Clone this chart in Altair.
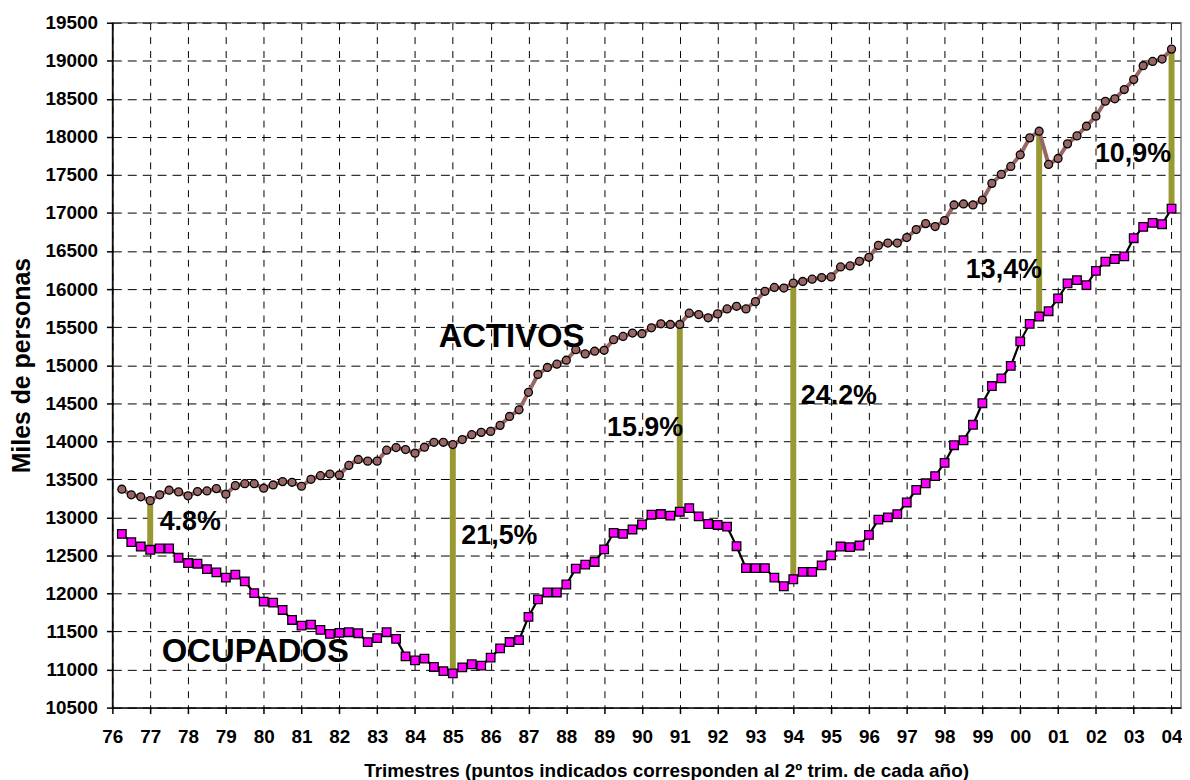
import json
import altair as alt
import pandas as pd

year_labels = ["76", "77", "78", "79", "80", "81", "82", "83", "84", "85", "86", "87",
               "88", "89", "90", "91", "92", "93", "94", "95", "96", "97", "98", "99",
               "00", "01", "02", "03", "04"]

# quarter index: 0 = 2nd quarter 1976 (tick "76"), first observation = 3rd quarter 1976
quarters = list(range(1, 113))

activos = [13370, 13296, 13270, 13220, 13296, 13357, 13335, 13283, 13339, 13348, 13378, 13304,
           13417, 13443, 13443, 13383, 13426, 13470, 13461, 13409, 13500, 13548, 13570, 13557,
           13683, 13761, 13739, 13739, 13883, 13917, 13891, 13843, 13922, 13987, 13987, 13957,
           14022, 14087, 14117, 14130, 14209, 14326, 14413, 14643, 14878, 14970, 15013, 15065,
           15204, 15148, 15183, 15196, 15335, 15378, 15422, 15413, 15491, 15543, 15535, 15535,
           15683, 15665, 15622, 15674, 15739, 15774, 15739, 15835, 15970, 16022, 16013, 16078,
           16100, 16130, 16152, 16160, 16291, 16304, 16365, 16418, 16574, 16604, 16604, 16677,
           16782, 16860, 16821, 16900, 17105, 17118, 17105, 17170, 17389, 17507, 17612, 17764,
           17987, 18074, 17638, 17716, 17908, 18013, 18140, 18271, 18468, 18500, 18622, 18753,
           18935, 18991, 19022, 19153]

ocupados = [12783, 12674, 12617, 12574, 12591, 12591, 12469, 12400, 12391, 12321, 12277, 12208,
            12247, 12160, 12004, 11892, 11879, 11783, 11652, 11578, 11591, 11521, 11469, 11482,
            11491, 11478, 11361, 11413, 11491, 11404, 11174, 11121, 11143, 11034, 10980, 10950,
            11030, 11070, 11052, 11157, 11279, 11362, 11388, 11693, 11922, 12013, 12013, 12118,
            12327, 12379, 12414, 12579, 12797, 12784, 12841, 12907, 13035, 13044, 13022, 13074,
            13122, 13013, 12913, 12900, 12878, 12621, 12334, 12334, 12334, 12208, 12095, 12187,
            12283, 12283, 12370, 12500, 12617, 12609, 12630, 12770, 12970, 13000, 13043, 13196,
            13361, 13448, 13543, 13717, 13948, 14013, 14217, 14500, 14726, 14826, 14991, 15313,
            15543, 15639, 15709, 15878, 16074, 16117, 16052, 16239, 16360, 16395, 16430, 16668,
            16817, 16869, 16852, 17057]

gap_quarters = [4, 36, 60, 72, 98, 112]
gap_labels = ["4.8%", "21,5%", "15.9%", "24.2%", "13,4%", "10,9%"]
gap_label_q = [5.0, 36.9, 52.3, 72.8, 90.25, 103.9]
gap_label_v = [12830, 12654, 14075, 14489, 16152, 17668]

series_labels = ["ACTIVOS", "OCUPADOS"]
series_label_q = [34.5, 5.23]
series_label_v = [15238, 11105]

FONT = "Liberation Sans"

df = pd.DataFrame({"q": quarters, "activos": activos, "ocupados": ocupados})
gaps = pd.DataFrame({
    "q": gap_quarters,
    "top": [activos[q - 1] for q in gap_quarters],
    "bottom": [ocupados[q - 1] for q in gap_quarters],
})
gap_text = pd.DataFrame({"q": gap_label_q, "v": gap_label_v, "t": gap_labels})
series_text = pd.DataFrame({"q": series_label_q, "v": series_label_v, "t": series_labels})

label_expr = json.dumps(year_labels) + "[round(datum.value / 4)]"

x_scale = alt.Scale(domain=[0, 113], nice=False, zero=False)
y_scale = alt.Scale(domain=[10500, 19500], nice=False, zero=False)

x_axis = alt.Axis(
    values=list(range(0, 113, 4)),
    labelExpr=label_expr,
    labelOverlap=False,
    labelBound=False,
    labelFlush=False,
    title="Trimestres (puntos indicados corresponden al 2º trim. de cada año)",
    labelFontSize=19, labelFontWeight="bold", labelFont=FONT, labelColor="black",
    labelPadding=14, tickSize=6, tickColor="black", tickWidth=1.5,
    domainColor="black", domainWidth=1.5,
    grid=True, gridColor="black", gridDash=[7, 7], gridWidth=1,
    titleFontSize=19, titleFontWeight="bold", titleFont=FONT, titleColor="black",
    titlePadding=15, titleX=557, titleAlign="center",
)
y_axis = alt.Axis(
    values=list(range(10500, 19501, 500)),
    format="d",
    labelOverlap=False,
    labelBound=False,
    labelFlush=False,
    title="Miles de personas",
    labelFontSize=19, labelFontWeight="bold", labelFont=FONT, labelColor="black",
    labelPadding=9, tickSize=6, tickColor="black", tickWidth=1.5,
    domainColor="black", domainWidth=1.5,
    grid=True, gridColor="black", gridDash=[9, 6], gridWidth=1,
    titleFontSize=25, titleFontWeight="bold", titleFont=FONT, titleColor="black",
    titlePadding=11,
)

base = alt.Chart(df)

bars = alt.Chart(gaps).mark_rule(color="#999933", strokeWidth=6).encode(
    x=alt.X("q:Q", scale=x_scale, axis=x_axis),
    y=alt.Y("top:Q", scale=y_scale, axis=y_axis),
    y2="bottom:Q",
)

act_line = base.mark_line(color="#996666", strokeWidth=4).encode(
    x=alt.X("q:Q", scale=x_scale, axis=x_axis), y=alt.Y("activos:Q", scale=y_scale, axis=y_axis))
act_pts = base.mark_point(shape="circle", filled=True, fill="#996666", stroke="black",
                          strokeWidth=1.3, size=64, opacity=1).encode(
    x=alt.X("q:Q", scale=x_scale, axis=x_axis), y=alt.Y("activos:Q", scale=y_scale, axis=y_axis))

ocu_line = base.mark_line(color="black", strokeWidth=2.2).encode(
    x=alt.X("q:Q", scale=x_scale, axis=x_axis), y=alt.Y("ocupados:Q", scale=y_scale, axis=y_axis))
ocu_pts = base.mark_point(shape="square", filled=True, fill="#FF00FF", stroke="black",
                          strokeWidth=1.3, size=74, opacity=1).encode(
    x=alt.X("q:Q", scale=x_scale, axis=x_axis), y=alt.Y("ocupados:Q", scale=y_scale, axis=y_axis))

gap_txt = alt.Chart(gap_text).mark_text(
    align="left", baseline="alphabetic", font=FONT, fontSize=27, fontWeight="bold", color="black"
).encode(x=alt.X("q:Q", scale=x_scale, axis=x_axis), y=alt.Y("v:Q", scale=y_scale, axis=y_axis),
         text="t:N")

ser_txt = alt.Chart(series_text).mark_text(
    align="left", baseline="alphabetic", font=FONT, fontSize=33, fontWeight="bold", color="black"
).encode(x=alt.X("q:Q", scale=x_scale, axis=x_axis), y=alt.Y("v:Q", scale=y_scale, axis=y_axis),
         text="t:N")

chart = alt.layer(bars, act_line, ocu_line, act_pts, ocu_pts, gap_txt, ser_txt).properties(
    width=1075, height=689,
    autosize=alt.AutoSizeParams(type="none"),
    padding={"left": 105, "top": 12.5, "right": 1, "bottom": 71},
    background="white",
).configure_view(stroke="#808080", strokeWidth=1.5).configure_axis(labelOverlap=False)

chart.save("out.html", embed_options={"renderer": "svg", "actions": False})
